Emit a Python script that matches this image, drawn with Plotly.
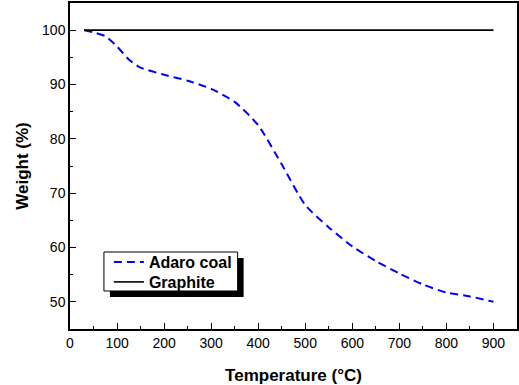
import plotly.graph_objects as go

# Data
coal_T = [30, 50, 75, 100, 125, 150, 200, 250, 300, 350, 400, 450, 500, 550, 600, 650, 700, 750, 800, 850, 900]
coal_W = [100.0, 99.6, 98.9, 97.0, 94.6, 93.1, 91.8, 90.7, 89.2, 86.8, 82.5, 75.3, 67.8, 63.7, 60.2, 57.5, 55.2, 53.2, 51.7, 51.0, 50.0]
graphite_T = [30, 900]
graphite_W = [100, 100]

x_range = [0, 950]
y_range = [45, 105]

FONT = "Liberation Sans, Arial, sans-serif"

fig = go.Figure()
fig.add_trace(go.Scatter(x=coal_T, y=coal_W, mode="lines", name="Adaro coal", legend="legend",
                         line=dict(color="#0000ff", width=2, dash="8px,5px", shape="spline", smoothing=0.6)))
fig.add_trace(go.Scatter(x=graphite_T, y=graphite_W, mode="lines", name="Graphite", legend="legend2",
                         line=dict(color="black", width=1.6)))

axis_common = dict(showgrid=False, zeroline=False, showline=True, linecolor="black", linewidth=1.5,
                   mirror=True, ticks="inside", tickcolor="black", tickwidth=1.3, ticklen=6,
                   tickmode="linear", tick0=0,
                   tickfont=dict(family=FONT, size=14, color="black"))

fig.update_xaxes(range=x_range, dtick=100,
                 minor=dict(ticks="inside", dtick=50, ticklen=3, tickcolor="black", tickwidth=1.2),
                 title=dict(text="Temperature (°C)", font=dict(family=FONT, size=17, color="black", weight="bold"), standoff=20),
                 **axis_common)
fig.update_yaxes(range=y_range, dtick=10,
                 minor=dict(ticks="inside", dtick=5, ticklen=3, tickcolor="black", tickwidth=1.2),
                 title=dict(text="Weight (%)", font=dict(family=FONT, size=17, color="black", weight="bold"), standoff=9),
                 **axis_common)

# legend frame with drop shadow
fig.add_shape(type="rect", xref="paper", yref="paper",
              x0=0.0893, x1=0.3884, y0=0.0982, y1=0.2178, fillcolor="black", line=dict(width=0), layer="above")
fig.add_shape(type="rect", xref="paper", yref="paper",
              x0=0.0759, x1=0.375, y0=0.1166, y1=0.2362, fillcolor="white",
              line=dict(color="black", width=1), layer="above")

leg_common = dict(xanchor="left", yanchor="top", bgcolor="rgba(0,0,0,0)", borderwidth=0,
                  font=dict(family=FONT, size=16, color="black", weight="bold"), itemwidth=30)

fig.update_layout(
    width=519, height=385,
    margin=dict(l=70, r=2, t=3, b=56, autoexpand=False),
    paper_bgcolor="white", plot_bgcolor="white",
    showlegend=True,
    legend=dict(x=0.087, y=0.2577, **leg_common),
    legend2=dict(x=0.087, y=0.1963, **leg_common),
)

fig.write_html("out.html", config={"displayModeBar": False},
               post_script="document.body.style.margin='0';")
